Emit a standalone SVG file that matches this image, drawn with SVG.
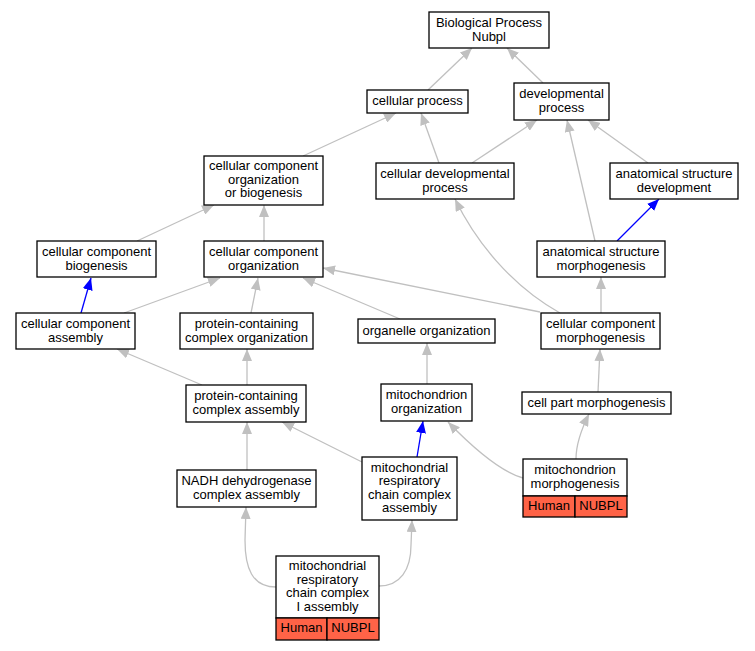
<svg xmlns="http://www.w3.org/2000/svg" width="755" height="651" viewBox="0 0 755 651">
<style>
.n rect{fill:#fff;stroke:#000;stroke-width:1.3}
.n rect.r{fill:#ff6347}
.n text{font-family:"Liberation Sans",Arial,sans-serif;font-size:13px;text-anchor:middle;fill:#000}
.e path{fill:none;stroke:#c0c0c0;stroke-width:1.3;marker-end:url(#ag)}
.e path.b{stroke:#0000ff;marker-end:url(#ab)}
</style>
<defs>
<marker id="ag" markerUnits="userSpaceOnUse" markerWidth="12" markerHeight="10" refX="12" refY="5" orient="auto"><path d="M0,0 L12,5 L0,10 z" fill="#c0c0c0"/></marker>
<marker id="ab" markerUnits="userSpaceOnUse" markerWidth="12" markerHeight="10" refX="12" refY="5" orient="auto"><path d="M0,0 L12,5 L0,10 z" fill="#0000ff"/></marker>
</defs>
<rect width="755" height="651" fill="#fff"/>
<g id="edges" class="e">
<path d="M428,90 L472,48"/>
<path d="M543,83 L507,48"/>
<path d="M439,163 L421,113"/>
<path d="M472,163 L537,120"/>
<path d="M648,163 L588,120"/>
<path d="M595,241 L567,120"/>
<path class="b" d="M617,241 L659,199"/>
<path d="M303,156 L396,113"/>
<path d="M137,241 L214,205"/>
<path d="M264,241 L264,205"/>
<path class="b" d="M81,313 L91,278"/>
<path d="M124,313 L220,278"/>
<path d="M251,313 L258,278"/>
<path d="M400,319 L303,278"/>
<path d="M540,312 L323,268"/>
<path d="M560,313 C510,285 475,240 455,199"/>
<path d="M601,313 L601,277"/>
<path d="M202,385 L117,349"/>
<path d="M247,385 L247,349"/>
<path d="M427,384 L427,343"/>
<path d="M598,392 L600,349"/>
<path d="M247,470 L247,422"/>
<path d="M362,462 L282,422"/>
<path class="b" d="M417,457 L423,421"/>
<path d="M523,478 C505,473 480,455 448,422"/>
<path d="M576,459 C576,445 581,430 589,414"/>
<path d="M276,587 C252,587 245,568 245,540 L246,507"/>
<path d="M379,586 C400,586 411,570 411,545 L412,520"/>
</g>
<g id="n_bp" class="n"><rect x="429" y="12" width="120" height="36"/><text x="489" y="27">Biological Process</text><text x="489" y="40.5">Nubpl</text></g>
<g id="n_cp" class="n"><rect x="367" y="90" width="101" height="23"/><text x="417.5" y="105">cellular process</text></g>
<g id="n_dp" class="n"><rect x="514" y="83" width="95" height="37"/><text x="561.5" y="98">developmental</text><text x="561.5" y="111.5">process</text></g>
<g id="n_cdp" class="n"><rect x="376" y="163" width="138" height="36"/><text x="445" y="178">cellular developmental</text><text x="445" y="191.5">process</text></g>
<g id="n_asd" class="n"><rect x="610" y="163" width="128" height="36"/><text x="674" y="178">anatomical structure</text><text x="674" y="191.5">development</text></g>
<g id="n_ccoob" class="n"><rect x="204" y="156" width="119" height="49"/><text x="263.5" y="170">cellular component</text><text x="263.5" y="183.5">organization</text><text x="263.5" y="197">or biogenesis</text></g>
<g id="n_ccb" class="n"><rect x="37" y="241" width="119" height="36"/><text x="96.5" y="256">cellular component</text><text x="96.5" y="269.5">biogenesis</text></g>
<g id="n_cco" class="n"><rect x="204" y="241" width="119" height="36"/><text x="263.5" y="256">cellular component</text><text x="263.5" y="269.5">organization</text></g>
<g id="n_asm" class="n"><rect x="537" y="241" width="128" height="36"/><text x="601" y="256">anatomical structure</text><text x="601" y="269.5">morphogenesis</text></g>
<g id="n_cca" class="n"><rect x="16" y="313" width="119" height="36"/><text x="75.5" y="328">cellular component</text><text x="75.5" y="341.5">assembly</text></g>
<g id="n_pcco" class="n"><rect x="180" y="313" width="133" height="36"/><text x="246.5" y="328">protein-containing</text><text x="246.5" y="341.5">complex organization</text></g>
<g id="n_oo" class="n"><rect x="358" y="319" width="137" height="24"/><text x="426.5" y="334.5">organelle organization</text></g>
<g id="n_ccm" class="n"><rect x="541" y="313" width="119" height="36"/><text x="600.5" y="328">cellular component</text><text x="600.5" y="341.5">morphogenesis</text></g>
<g id="n_pcca" class="n"><rect x="186" y="385" width="120" height="37"/><text x="246" y="400">protein-containing</text><text x="246" y="413.5">complex assembly</text></g>
<g id="n_mo" class="n"><rect x="381" y="384" width="91" height="37"/><text x="426.5" y="399">mitochondrion</text><text x="426.5" y="412.5">organization</text></g>
<g id="n_cpm" class="n"><rect x="522" y="392" width="149" height="22"/><text x="596.5" y="407">cell part morphogenesis</text></g>
<g id="n_nadh" class="n"><rect x="177" y="470" width="139" height="37"/><text x="246.5" y="485">NADH dehydrogenase</text><text x="246.5" y="498.5">complex assembly</text></g>
<g id="n_mrcca" class="n"><rect x="362" y="457" width="95" height="63"/><text x="409.5" y="471.5">mitochondrial</text><text x="409.5" y="485">respiratory</text><text x="409.5" y="498.5">chain complex</text><text x="409.5" y="512">assembly</text></g>
<g id="n_mm" class="n"><rect x="523" y="459" width="104" height="37"/><rect class="r" x="523" y="496" width="52" height="21"/><rect class="r" x="575" y="496" width="52" height="21"/><text x="575" y="474">mitochondrion</text><text x="575" y="487.5">morphogenesis</text><text x="549" y="509.5">Human</text><text x="601" y="509.5">NUBPL</text></g>
<g id="n_mrccIa" class="n"><rect x="276" y="556" width="103" height="62"/><rect class="r" x="276" y="618" width="51" height="22"/><rect class="r" x="327" y="618" width="52" height="22"/><text x="327.5" y="570">mitochondrial</text><text x="327.5" y="583.5">respiratory</text><text x="327.5" y="597">chain complex</text><text x="327.5" y="610.5">I assembly</text><text x="301.5" y="632">Human</text><text x="353" y="632">NUBPL</text></g>
</svg>
